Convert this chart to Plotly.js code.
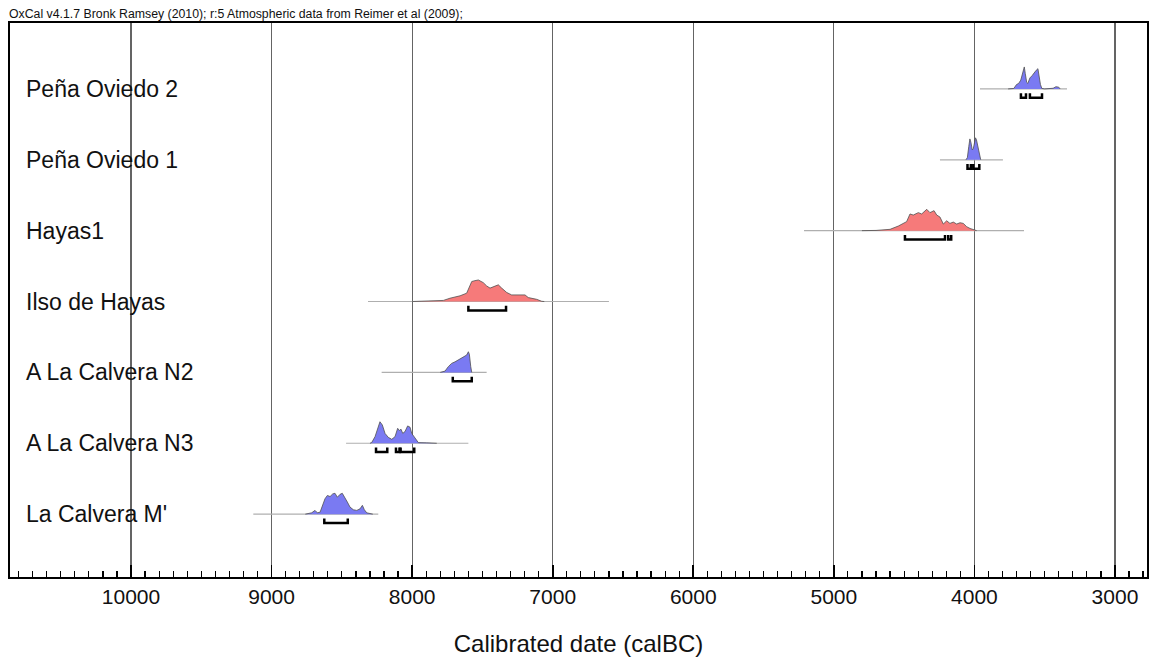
<!DOCTYPE html>
<html>
<head>
<meta charset="utf-8">
<script src="https://cdn.plot.ly/plotly-3.0.1.min.js"></script>
<style>html,body{margin:0;padding:0;background:#fff;}#chart{width:1150px;height:657px;}</style>
</head>
<body>
<div id="chart"></div>
<script>
// ---- Data (years calBC, relative probability) ----
const rowLabels = ["Peña Oviedo 2", "Peña Oviedo 1", "Hayas1", "Ilso de Hayas", "A La Calvera N2", "A La Calvera N3", "La Calvera M'"];
const rowKinds = ["blue", "blue", "red", "red", "blue", "blue", "blue"];

const po2Years = [3760, 3720, 3700, 3685, 3670, 3655, 3645, 3638, 3628, 3620, 3605, 3590, 3575, 3560, 3548, 3540, 3530, 3520, 3500, 3440, 3420, 3400, 3390];
const po2Dens  = [0, 0.02, 0.2, 0.25, 0.4, 0.8, 1.0, 0.7, 0.3, 0.25, 0.5, 0.6, 0.75, 0.85, 0.92, 0.6, 0.2, 0.02, 0, 0.03, 0.1, 0.08, 0];

const po1Years = [4060, 4050, 4040, 4032, 4025, 4015, 4008, 4000, 3992, 3985, 3975, 3965, 3955];
const po1Dens  = [0, 0.1, 0.6, 0.95, 0.8, 0.45, 0.5, 0.85, 1.0, 0.9, 0.6, 0.2, 0];

const hayYears = [4800, 4700, 4600, 4541, 4482, 4458, 4435, 4399, 4375, 4339, 4316, 4287, 4268, 4245, 4221, 4197, 4174, 4150, 4126, 4102, 4079, 4055, 4031, 4008, 3984];
const hayDens  = [0, 0.01, 0.06, 0.21, 0.41, 0.76, 0.71, 0.82, 0.76, 0.97, 0.82, 0.91, 0.71, 0.62, 0.3, 0.45, 0.33, 0.39, 0.3, 0.36, 0.33, 0.18, 0.1, 0.05, 0];

const ilsoYears = [8000, 7968, 7778, 7731, 7659, 7612, 7593, 7576, 7553, 7529, 7494, 7470, 7446, 7423, 7387, 7363, 7327, 7292, 7256, 7221, 7197, 7174, 7149, 7114, 7078, 7060];
const ilsoDens  = [0, 0.01, 0.05, 0.15, 0.26, 0.38, 0.68, 0.91, 0.95, 0.98, 0.86, 0.71, 0.61, 0.68, 0.76, 0.61, 0.41, 0.3, 0.3, 0.33, 0.3, 0.18, 0.15, 0.1, 0.01, 0];

const n2Years = [7800, 7790, 7766, 7743, 7719, 7695, 7672, 7648, 7624, 7612, 7600, 7593, 7583, 7576];
const n2Dens  = [0, 0.01, 0.06, 0.26, 0.41, 0.48, 0.56, 0.64, 0.76, 0.79, 0.94, 0.83, 0.26, 0];

const n3Years = [8300, 8288, 8264, 8245, 8229, 8212, 8193, 8170, 8145, 8122, 8103, 8091, 8079, 8067, 8051, 8032, 8015, 8003, 7987, 7968, 7956, 7896, 7825];
const n3Dens  = [0, 0.03, 0.3, 0.73, 0.98, 0.83, 0.45, 0.27, 0.18, 0.3, 0.68, 0.58, 0.64, 0.45, 0.53, 0.79, 0.73, 0.45, 0.3, 0.15, 0.03, 0.02, 0];

const mYears = [8760, 8738, 8715, 8691, 8674, 8655, 8636, 8620, 8603, 8584, 8565, 8549, 8532, 8513, 8497, 8478, 8461, 8442, 8418, 8394, 8371, 8354, 8340, 8323, 8300, 8280];
const mDens  = [0, 0.02, 0.06, 0.17, 0.06, 0.09, 0.4, 0.7, 0.85, 0.8, 0.92, 0.95, 0.77, 0.9, 0.95, 0.7, 0.55, 0.32, 0.2, 0.17, 0.24, 0.4, 0.2, 0.06, 0.02, 0];

const distYears = [po2Years, po1Years, hayYears, ilsoYears, n2Years, n3Years, mYears];
const distDens  = [po2Dens, po1Dens, hayDens, ilsoDens, n2Dens, n3Dens, mDens];

// Extent of each plotted baseline
const baseFrom = [3960, 4245, 5212, 8314, 8217, 8470, 9130];
const baseTo   = [3341, 3797, 3647, 6600, 7470, 7600, 8241];

// 95.4% ranges (brackets)
const ranges = [
  [[3669, 3633], [3605, 3519]],
  [[4049, 4025], [4008, 3965]],
  [[4494, 4209], [4186, 4165]],
  [[7600, 7332]],
  [[7711, 7576]],
  [[8257, 8177], [8115, 8090], [8082, 7985]],
  [[8625, 8458]]
];

const majorStep = 1000;
const minorStep = 100;
const xRange = [10861, 2772];

// ---- Build traces ----
const fillColors = {blue: "rgb(122,122,242)", red: "rgb(246,122,122)"};
const FONT = "Arial, 'Liberation Sans', sans-serif";
const N = rowLabels.length;
const H = 0.31;
const traces = [];
const annotations = [];

rowLabels.forEach((lab, i) => {
  const r = N - i;
  traces.push({
    x: [baseFrom[i], baseTo[i]], y: [r, r], mode: "lines", type: "scatter",
    line: {color: "rgb(175,175,175)", width: 1.2}, hoverinfo: "skip", showlegend: false
  });
  traces.push({
    x: distYears[i], y: distDens[i].map(d => r + H * d), mode: "lines", type: "scatter",
    fill: "toself", fillcolor: fillColors[rowKinds[i]],
    line: {color: "rgb(80,80,80)", width: 0.8}, hoverinfo: "skip", showlegend: false
  });
  ranges[i].forEach(([a, b]) => {
    traces.push({
      x: [a, a, b, b], y: [r - 0.06, r - 0.125, r - 0.125, r - 0.06], mode: "lines", type: "scatter",
      line: {color: "black", width: 2.5}, hoverinfo: "skip", showlegend: false
    });
  });
  annotations.push({
    text: lab, xref: "paper", yref: "y", x: 0.012, y: r, xanchor: "left", yanchor: "middle",
    showarrow: false, font: {family: FONT, size: 23, color: "#111"}
  });
});

annotations.push({
  text: "OxCal v4.1.7 Bronk Ramsey (2010); r:5 Atmospheric data from Reimer et al (2009);",
  xref: "paper", yref: "paper", x: -0.003, y: 1.0, xanchor: "left", yanchor: "bottom",
  showarrow: false, font: {family: FONT, size: 12.3, color: "#111"}
});

const layout = {
  width: 1150, height: 657,
  margin: {l: 10, r: 3, t: 23, b: 80},
  paper_bgcolor: "white", plot_bgcolor: "white",
  showlegend: false,
  xaxis: {
    range: xRange, tickmode: "linear", tick0: 0, dtick: majorStep,
    showgrid: true, gridcolor: "rgb(100,100,100)", gridwidth: 1.3,
    ticks: "inside", ticklen: 12, tickwidth: 1.6, tickcolor: "black",
    minor: {dtick: minorStep, tick0: 0, ticks: "inside", ticklen: 6, tickwidth: 1.2, tickcolor: "black", showgrid: false},
    showline: true, linecolor: "black", linewidth: 2, mirror: true,
    zeroline: false, separatethousands: false, tickformat: "d",
    tickfont: {family: FONT, size: 21, color: "#111"},
    title: {text: "Calibrated date (calBC)", standoff: 30, font: {family: FONT, size: 24, color: "#111"}}
  },
  yaxis: {
    range: [0.113, 7.93], showgrid: false, zeroline: false, showticklabels: false, ticks: "",
    showline: true, linecolor: "black", linewidth: 2, mirror: true
  },
  annotations: annotations
};

Plotly.newPlot("chart", traces, layout, {displayModeBar: false, staticPlot: true});
</script>
</body>
</html>
